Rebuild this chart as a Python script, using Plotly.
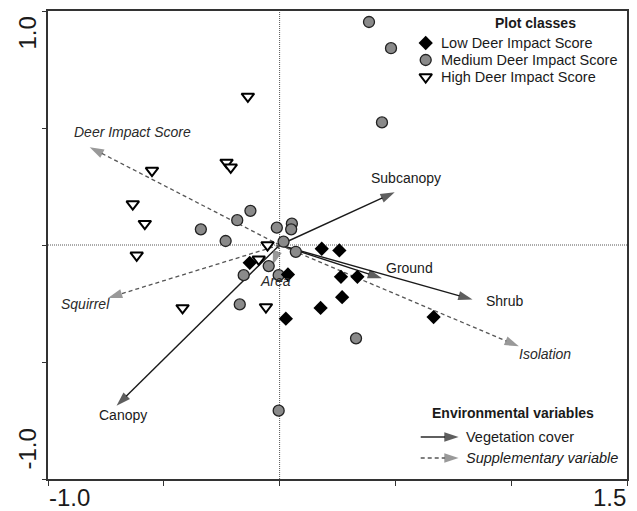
import plotly.graph_objects as go

# ---------------- data ----------------
low_x = [0.182, 0.258, -0.129, 0.036, 0.265, 0.336, 0.270, 0.177, 0.027, 0.665]
low_y = [-0.016, -0.023, -0.076, -0.126, -0.136, -0.136, -0.223, -0.269, -0.315, -0.308]

med_x = [0.386, 0.481, 0.442, -0.126, -0.183, -0.340, -0.233, -0.012, 0.053, 0.050,
         0.017, 0.070, -0.047, -0.155, -0.004, -0.172, 0.330, -0.004]
med_y = [0.953, 0.841, 0.524, 0.146, 0.106, 0.067, 0.017, 0.074, 0.091, 0.067,
         0.014, -0.029, -0.090, -0.129, -0.129, -0.254, -0.399, -0.708]

high_x = [-0.137, -0.551, -0.229, -0.211, -0.634, -0.582, -0.617, -0.419, -0.052, -0.090, -0.059]
high_y = [0.635, 0.318, 0.353, 0.332, 0.175, 0.091, -0.044, -0.269, 0.000, -0.061, -0.265]

veg_names = ["Subcanopy", "Shrub", "Ground", "Canopy"]
veg_x = [0.497, 0.833, 0.442, -0.704]
veg_y = [0.225, -0.233, -0.142, -0.687]

sup_names = ["Deer Impact Score", "Squirrel", "Isolation", "Area"]
sup_x = [-0.820, -0.741, 1.033, -0.030]
sup_y = [0.418, -0.226, -0.433, -0.085]

x_tick_labels = ["-1.0", "1.5"]
y_tick_labels = ["-1.0", "1.0"]
x_range = [-1.0, 1.5]
y_range = [-1.0, 1.0]

class_names = ["Low Deer Impact Score", "Medium Deer Impact Score", "High Deer Impact Score"]
legend2_names = ["Vegetation cover", "Supplementary variable"]

# ---------------- styling / layout ----------------
W, H = 637, 511
ML, MR, MT, MB = 48, 8, 11, 32
FONT = "Liberation Sans, Arial, Helvetica, sans-serif"
INK = "#1a1a1a"
FRAME = "#333333"
SUP_LINE = "#555555"
SUP_HEAD = "#6e6e6e"
HEAD = 15
LEG_FS = 14.5

# pixel offsets of arrow labels relative to arrow tips (dx right, dy down)
label_offsets = {
    "Subcanopy": (11, -14), "Shrub": (32, 1), "Ground": (28, -10), "Canopy": (6, 9),
    "Deer Impact Score": (43, -15), "Squirrel": (-22, 6), "Isolation": (26, 8), "Area": (3, 16),
}

def pxp(x):  # pixel x -> paper
    return (x - ML) / (W - ML - MR)

def pyp(y):  # pixel y -> paper
    return (H - MB - y) / (H - MT - MB)

fig = go.Figure()

# vegetation arrows (solid)
for name, x, y in zip(veg_names, veg_x, veg_y):
    fig.add_trace(go.Scatter(
        x=[0, x], y=[0, y], mode="lines+markers", hoverinfo="skip", showlegend=False,
        line=dict(color=INK, width=1.4),
        marker=dict(symbol=["circle", "arrow"], size=[0, HEAD], angleref="previous",
                    color=INK, line=dict(width=0)),
    ))
# supplementary arrows (dashed)
for name, x, y in zip(sup_names, sup_x, sup_y):
    fig.add_trace(go.Scatter(
        x=[0, x], y=[0, y], mode="lines+markers", hoverinfo="skip", showlegend=False,
        line=dict(color=SUP_LINE, width=1.3, dash="4px,3px"),
        marker=dict(symbol=["circle", "arrow"], size=[0, HEAD], angleref="previous",
                    color=SUP_HEAD, line=dict(width=0)),
    ))

# plot points
fig.add_trace(go.Scatter(x=med_x, y=med_y, mode="markers", showlegend=False,
                         marker=dict(symbol="circle", size=11, color="#8a8a8a",
                                     line=dict(color="#222222", width=1.3))))
fig.add_trace(go.Scatter(x=low_x, y=low_y, mode="markers", showlegend=False,
                         marker=dict(symbol="diamond", size=11, color="#000000",
                                     line=dict(width=0))))
fig.add_trace(go.Scatter(x=high_x, y=high_y, mode="markers", showlegend=False,
                         marker=dict(symbol="triangle-down", size=11, color="#ffffff",
                                     line=dict(color="#000000", width=2))))

# ---- legend drawings on an overlay pixel axis ----
leg_x = 427
leg_rows = [43, 60, 77]
leg_syms = [dict(symbol="diamond", size=11, color="#000000", line=dict(width=0)),
            dict(symbol="circle", size=11, color="#8a8a8a", line=dict(color="#222222", width=1.3)),
            dict(symbol="triangle-down", size=11, color="#ffffff", line=dict(color="#000000", width=2))]
for yy, m in zip(leg_rows, leg_syms):
    fig.add_trace(go.Scatter(x=[leg_x], y=[yy], xaxis="x2", yaxis="y2", mode="markers",
                             showlegend=False, hoverinfo="skip", marker=m))
fig.add_trace(go.Scatter(x=[422, 460], y=[437, 437], xaxis="x2", yaxis="y2",
                         mode="lines+markers", showlegend=False, hoverinfo="skip",
                         line=dict(color=INK, width=1.4),
                         marker=dict(symbol=["circle", "arrow"], size=[0, HEAD], angleref="previous",
                                     color=INK, line=dict(width=0))))
fig.add_trace(go.Scatter(x=[422, 460], y=[458, 458], xaxis="x2", yaxis="y2",
                         mode="lines+markers", showlegend=False, hoverinfo="skip",
                         line=dict(color=SUP_LINE, width=1.3, dash="4px,3px"),
                         marker=dict(symbol=["circle", "arrow"], size=[0, HEAD], angleref="previous",
                                     color=SUP_HEAD, line=dict(width=0))))

annotations = []
# arrow labels
for name, x, y in zip(veg_names, veg_x, veg_y):
    dx, dy = label_offsets[name]
    annotations.append(dict(x=x, y=y, xref="x", yref="y", text=name, showarrow=False,
                            xanchor="center", yanchor="middle",
                            xshift=dx, yshift=-dy, font=dict(size=14, color=INK, family=FONT)))
for name, x, y in zip(sup_names, sup_x, sup_y):
    dx, dy = label_offsets[name]
    annotations.append(dict(x=x, y=y, xref="x", yref="y", text="<i>" + name + "</i>",
                            showarrow=False, xshift=dx, yshift=-dy,
                            xanchor="center", yanchor="middle",
                            font=dict(size=14, color="#2a2a2a", family=FONT)))

# legend texts
annotations.append(dict(x=pxp(537), y=pyp(23), xref="paper", yref="paper", showarrow=False,
                        xanchor="center", yanchor="middle",
                        text="<b>Plot classes</b>", font=dict(size=14, color=INK, family=FONT)))
for yy, name in zip(leg_rows, class_names):
    annotations.append(dict(x=pxp(440), y=pyp(yy), xref="paper", yref="paper", showarrow=False,
                            xanchor="left", yanchor="middle", text=name,
                            font=dict(size=LEG_FS, color=INK, family=FONT)))
annotations.append(dict(x=pxp(515), y=pyp(413), xref="paper", yref="paper", showarrow=False,
                        xanchor="center", yanchor="middle",
                        text="<b>Environmental variables</b>",
                        font=dict(size=14, color=INK, family=FONT)))
annotations.append(dict(x=pxp(465), y=pyp(437), xref="paper", yref="paper", showarrow=False,
                        xanchor="left", yanchor="middle", text=legend2_names[0],
                        font=dict(size=LEG_FS, color=INK, family=FONT)))
annotations.append(dict(x=pxp(465), y=pyp(458), xref="paper", yref="paper", showarrow=False,
                        xanchor="left", yanchor="middle", text="<i>" + legend2_names[1] + "</i>",
                        font=dict(size=LEG_FS, color=INK, family=FONT)))

# axis end labels
annotations.append(dict(x=0, y=pyp(497), xref="paper", yref="paper", showarrow=False,
                        xanchor="left", yanchor="middle", text=x_tick_labels[0], borderpad=0,
                        font=dict(size=24, color=INK, family=FONT)))
annotations.append(dict(x=1, y=pyp(497), xref="paper", yref="paper", showarrow=False,
                        xanchor="right", yanchor="middle", text=x_tick_labels[1], borderpad=0,
                        font=dict(size=24, color=INK, family=FONT)))
annotations.append(dict(x=pxp(27), y=pyp(15), xref="paper", yref="paper", showarrow=False,
                        xanchor="center", yanchor="top", textangle=-90, text=y_tick_labels[1],
                        font=dict(size=24, color=INK, family=FONT)))
annotations.append(dict(x=pxp(27), y=pyp(472), xref="paper", yref="paper", showarrow=False,
                        xanchor="center", yanchor="bottom", textangle=-90, text=y_tick_labels[0],
                        font=dict(size=24, color=INK, family=FONT)))

shapes = [
    dict(type="line", xref="x", yref="y", x0=0, x1=0, y0=y_range[0], y1=y_range[1],
         line=dict(color="#555555", width=1, dash="1px,1px"), layer="below"),
    dict(type="line", xref="x", yref="y", x0=x_range[0], x1=x_range[1], y0=0, y1=0,
         line=dict(color="#555555", width=1, dash="1px,1px"), layer="below"),
]

fig.update_layout(
    width=W, height=H,
    margin=dict(l=ML, r=MR, t=MT, b=MB, pad=0),
    paper_bgcolor="white", plot_bgcolor="white",
    showlegend=False,
    font=dict(family=FONT, color=INK),
    xaxis=dict(range=x_range, showgrid=False, zeroline=False, showticklabels=False,
               ticks="outside", ticklen=5, tickwidth=1.3, tickcolor=FRAME, dtick=0.5, tick0=0,
               showline=True, linecolor=FRAME, linewidth=1.5, mirror=True, fixedrange=True),
    yaxis=dict(range=y_range, showgrid=False, zeroline=False, showticklabels=False,
               ticks="outside", ticklen=4, tickwidth=1.3, tickcolor=FRAME, dtick=0.5, tick0=0,
               showline=True, linecolor=FRAME, linewidth=1.5, mirror=True, fixedrange=True),
    xaxis2=dict(range=[ML, W - MR], overlaying="x", anchor="y2", visible=False, fixedrange=True),
    yaxis2=dict(range=[H - MB, MT], overlaying="y", anchor="x2", visible=False, fixedrange=True),
    annotations=annotations,
    shapes=shapes,
)

fig.write_html("out.html", config={"displayModeBar": False},
               post_script="document.body.style.margin='0px';document.body.style.overflow='hidden';")
